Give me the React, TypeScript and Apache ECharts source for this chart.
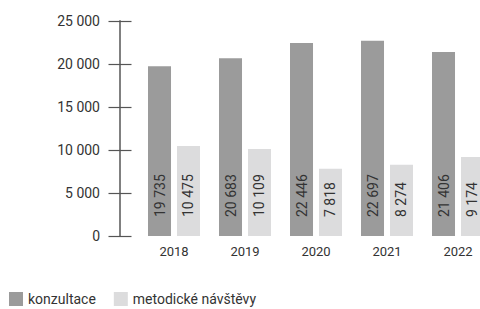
import React, { useEffect, useRef } from "react";
import * as echarts from "echarts";

const years = ["2018", "2019", "2020", "2021", "2022"];
const konzultace = [19735, 20683, 22446, 22697, 21406];
const metodicke = [10475, 10109, 7818, 8274, 9174];
const seriesNames = ["konzultace", "metodické návštěvy"];

const fmt = (v: number) => String(v).replace(/\B(?=(\d{3})+(?!\d))/g, " ");

export default function App() {
  const ref = useRef<HTMLDivElement>(null);
  useEffect(() => {
    const chart = echarts.init(ref.current!, null, { renderer: "svg" });
    const font = "Roboto";
    const label = {
      show: true,
      position: "insideBottom",
      distance: 19,
      rotate: 90,
      align: "left",
      verticalAlign: "middle",
      color: "#333",
      fontSize: 14,
      fontFamily: font,
      formatter: (p: any) => fmt(p.value),
    };
    chart.setOption({
      animation: false,
      grid: { left: 138.5, width: 355, top: 21, bottom: 73, containLabel: false, outerBoundsMode: "none" },
      legend: {
        left: 9,
        top: 292,
        padding: 0,
        itemWidth: 14,
        itemHeight: 14,
        itemGap: 18,
        icon: "rect",
        textStyle: { color: "#333", fontSize: 14, fontFamily: font },
        data: seriesNames,
      },
      xAxis: {
        type: "category",
        data: years,
        axisLine: { show: false },
        axisTick: { show: false },
        axisLabel: { color: "#333", fontSize: 13, fontFamily: font, margin: 9 },
      },
      yAxis: [
        {
          type: "value",
          min: 0,
          max: 25000,
          interval: 5000,
          offset: 18.5,
          axisLine: { show: true, lineStyle: { color: "#808080", width: 2 } },
          axisTick: { show: false },
          axisLabel: { color: "#333", fontSize: 14, fontFamily: font, margin: 20, formatter: (v: number) => fmt(v) },
          splitLine: { show: false },
        },
        {
          type: "value",
          position: "left",
          min: 0,
          max: 25000,
          interval: 5000,
          offset: 7,
          axisLine: { show: false },
          axisTick: { show: true, inside: false, length: 23, lineStyle: { color: "#555", width: 1.2 } },
          axisLabel: { show: false },
          splitLine: { show: false },
        },
      ],
      series: [
        {
          name: seriesNames[0],
          type: "bar",
          data: konzultace,
          barWidth: 23,
          barGap: "26%",
          itemStyle: { color: "#9b9b9b" },
          label,
        },
        {
          name: seriesNames[1],
          type: "bar",
          data: metodicke,
          barWidth: 23,
          itemStyle: { color: "#dcdcdd" },
          label,
        },
      ],
    });
    return () => chart.dispose();
  }, []);
  return <div ref={ref} style={{ width: 480, height: 309, position: "absolute", left: 0, top: 0 }} />;
}
